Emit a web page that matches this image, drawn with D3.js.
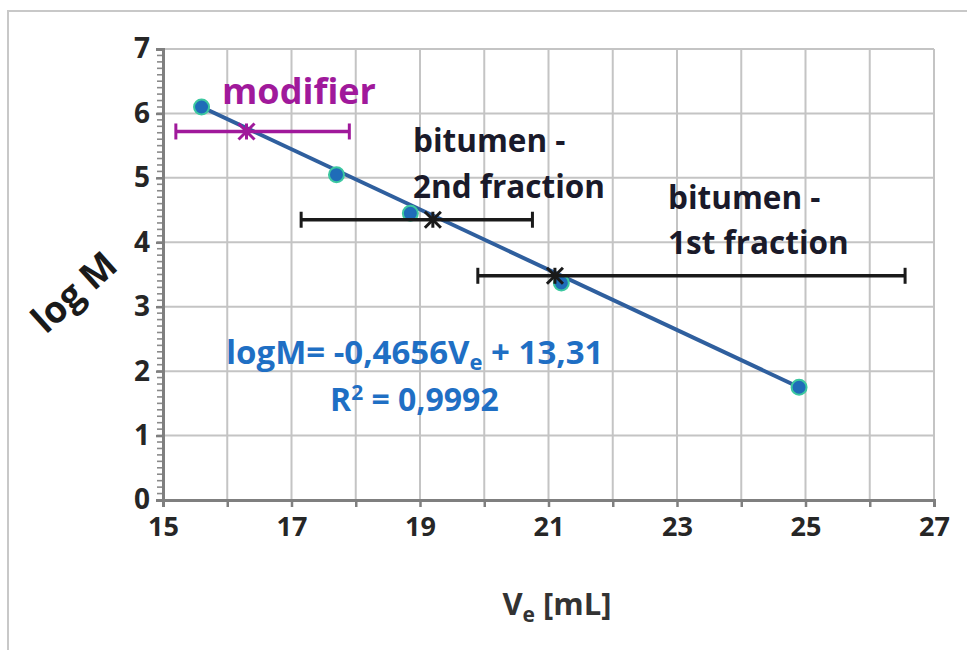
<!DOCTYPE html>
<html><head><meta charset="utf-8">
<script src="https://cdn.jsdelivr.net/npm/d3@7"></script>
<style>body{margin:0;background:#fff;} svg{display:block;}</style>
</head><body>
<script>
// ---- data ----
const veValues = [15.6, 17.7, 18.85, 21.2, 24.9];
const logMValues = [6.1, 5.05, 4.45, 3.37, 1.75];
const fitSlope = -0.4656;
const fitIntercept = 13.31;
const barNames = ["modifier", "bitumen 2nd", "bitumen 1st"];
const barCenters = [16.3, 19.2, 21.1];
const barLow = [15.2, 17.15, 19.9];
const barHigh = [17.9, 20.75, 26.55];
const barLogM = [5.72, 4.35, 3.48];
const xTickLabels = [15, 17, 19, 21, 23, 25, 27];
const yTickLabels = [0, 1, 2, 3, 4, 5, 6, 7];

const W = 967, H = 650;
const svg = d3.select("body").append("svg").attr("width", W).attr("height", H);
const font = "'Open Sans', Lato, sans-serif";

// outer frame
svg.append("path").attr("d", `M8,${H} L8,11 L${W},11`).attr("fill","none").attr("stroke","#c8c8c8").attr("stroke-width",2);

const x = d3.scaleLinear().domain([15, 27]).range([163, 934]);
const y = d3.scaleLinear().domain([0, 7]).range([500, 49]);

// grid
const g = svg.append("g");
g.selectAll(".vg").data(d3.range(16, 28)).enter().append("line")
  .attr("x1", d => x(d)).attr("x2", d => x(d)).attr("y1", y(0)).attr("y2", y(7))
  .attr("stroke", "#c4c4c4").attr("stroke-width", 2);
g.selectAll(".hg").data(d3.range(1, 8)).enter().append("line")
  .attr("x1", x(15)).attr("x2", x(27)).attr("y1", d => y(d)).attr("y2", d => y(d))
  .attr("stroke", "#c4c4c4").attr("stroke-width", 2);

// y axis minor ticks
g.selectAll(".ym").data(d3.range(0, 71).map(i => i / 10)).enter().append("line")
  .attr("x1", x(15) - 6).attr("x2", x(15)).attr("y1", d => y(d)).attr("y2", d => y(d))
  .attr("stroke", "#8a8a8a").attr("stroke-width", 1.6);

// axes
const xAxis = d3.axisBottom(x).tickValues(d3.range(15, 28)).tickSize(7)
  .tickFormat(d => xTickLabels.includes(d) ? d : "");
const xa = svg.append("g").attr("transform", `translate(0,${y(0)})`).call(xAxis);
xa.select(".domain").attr("stroke", "#7f7f7f").attr("stroke-width", 3);
xa.selectAll(".tick line").attr("stroke", "#7f7f7f").attr("stroke-width", 2.5);
xa.selectAll(".tick text").attr("font-family", font).attr("font-weight", "bold")
  .attr("font-size", 27).attr("fill", "#262626").attr("dy", "0.95em");

const yAxis = d3.axisLeft(y).tickValues(yTickLabels).tickSize(7).tickPadding(6)
  .tickFormat(d3.format("d"));
const ya = svg.append("g").attr("transform", `translate(${x(15)},0)`).call(yAxis);
ya.select(".domain").attr("stroke", "#7f7f7f").attr("stroke-width", 3);
ya.selectAll(".tick line").attr("stroke", "#7f7f7f").attr("stroke-width", 2.5);
ya.selectAll(".tick text").attr("font-family", font).attr("font-weight", "bold")
  .attr("font-size", 28).attr("fill", "#262626");

// fit line
const x0 = veValues[0], x1 = veValues[veValues.length - 1];
svg.append("line")
  .attr("x1", x(x0)).attr("y1", y(logMValues[0]))
  .attr("x2", x(x1)).attr("y2", y(logMValues[logMValues.length - 1]))
  .attr("stroke", "#2f5f9e").attr("stroke-width", 4);

// points
svg.selectAll(".pt").data(veValues.map((v, i) => [v, logMValues[i]])).enter().append("circle")
  .attr("cx", d => x(d[0])).attr("cy", d => y(d[1])).attr("r", 7.5)
  .attr("fill", "#1f6cb8").attr("stroke", "#3cc8a0").attr("stroke-width", 2);

// error bars
const barColors = ["#a0199b", "#1a1a1a", "#1a1a1a"];
barNames.forEach((n, i) => {
  const c = barColors[i];
  const yy = y(barLogM[i]);
  const eb = svg.append("g").attr("stroke", c).attr("stroke-width", 3.5).attr("fill", "none");
  eb.append("line").attr("x1", x(barLow[i])).attr("x2", x(barHigh[i])).attr("y1", yy).attr("y2", yy);
  [barLow[i], barHigh[i]].forEach(v => {
    eb.append("line").attr("x1", x(v)).attr("x2", x(v)).attr("y1", yy - 8).attr("y2", yy + 8).attr("stroke-width", 3);
  });
  const cx = x(barCenters[i]), s = 8;
  eb.append("line").attr("x1", cx - s).attr("x2", cx + s).attr("y1", yy - s).attr("y2", yy + s).attr("stroke-width", 3);
  eb.append("line").attr("x1", cx - s).attr("x2", cx + s).attr("y1", yy + s).attr("y2", yy - s).attr("stroke-width", 3);
  eb.append("line").attr("x1", cx).attr("x2", cx).attr("y1", yy - s).attr("y2", yy + s).attr("stroke-width", 3);
});

// annotations
function txt(t, px, py, size, color, anchor) {
  return svg.append("text").attr("x", px).attr("y", py).attr("font-family", font)
    .attr("font-weight", "bold").attr("font-size", size).attr("fill", color)
    .attr("text-anchor", anchor || "start").text(t);
}
txt("modifier", 222, 104, 36, "#a0199b");
txt("bitumen -", 413, 152, 31.5, "#1a1a2a");
txt("2nd fraction", 413, 198, 31.5, "#1a1a2a");
txt("bitumen -", 668, 209, 31.5, "#1a1a2a");
txt("1st fraction", 668, 254, 31.5, "#1a1a2a");

const eq = svg.append("text").attr("x", 226).attr("y", 364).attr("font-family", font)
  .attr("font-weight", "bold").attr("font-size", 33).attr("fill", "#1f6fc4");
eq.append("tspan").text("logM= -0,4656V");
eq.append("tspan").attr("font-size", 22).attr("dy", 6).text("e");
eq.append("tspan").attr("dy", -6).text(" + 13,31");
const r2 = svg.append("text").attr("x", 330).attr("y", 411).attr("font-family", font)
  .attr("font-weight", "bold").attr("font-size", 32).attr("fill", "#1f6fc4");
r2.append("tspan").text("R");
r2.append("tspan").attr("font-size", 21).attr("dy", -11).text("2");
r2.append("tspan").attr("dy", 11).text(" = 0,9992");

// axis titles
const xt = svg.append("text").attr("x", 557).attr("y", 615).attr("text-anchor", "middle")
  .attr("font-family", font).attr("font-weight", "bold").attr("font-size", 31).attr("fill", "#333");
xt.append("tspan").text("V");
xt.append("tspan").attr("font-size", 21).attr("dy", 7).text("e");
xt.append("tspan").attr("dy", -7).text(" [mL]");

svg.append("text").attr("transform", "translate(74,292) rotate(-42)").attr("text-anchor", "middle")
  .attr("font-family", font).attr("font-weight", "bold").attr("font-size", 37).attr("fill", "#1a1a1a")
  .attr("dy", "0.35em").text("log M");
</script>
</body></html>
